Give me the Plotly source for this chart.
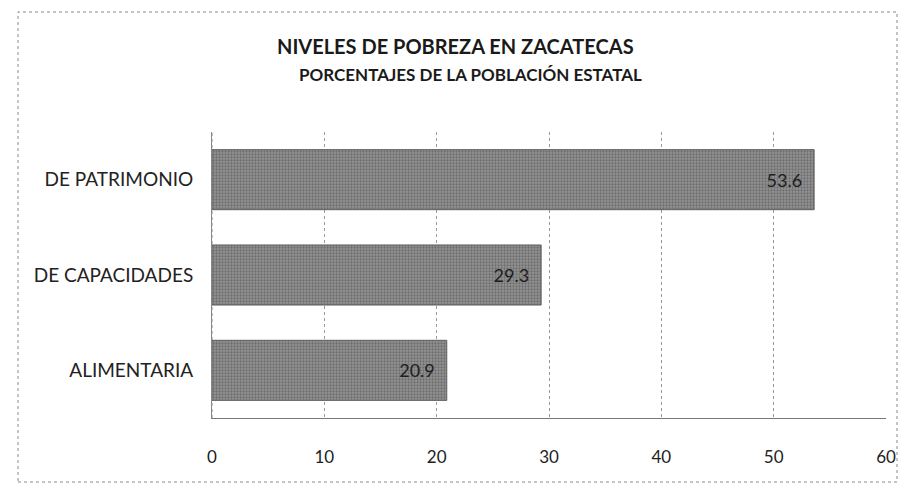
import plotly.graph_objects as go

categories = ["ALIMENTARIA", "DE CAPACIDADES", "DE PATRIMONIO"]
values = [20.9, 29.3, 53.6]
tick_vals = [0, 10, 20, 30, 40, 50, 60]

OFF = 8  # page body margin
W, H = 907 - OFF, 495 - OFF
# plot area in page pixels
PX0, PX1, PY0, PY1 = 212, 886, 132, 418
L = PX0 - OFF
R = W - (PX1 - OFF)
T = PY0 - OFF
B = H - (PY1 - OFF)
pw = PX1 - PX0
ph = PY1 - PY0

def px_x(p):
    return (p - PX0) / pw

def px_y(p):
    return (PY1 - p) / ph

fig = go.Figure(go.Bar(
    y=categories, x=values, orientation="h",
    marker=dict(color="#858585", line=dict(color="#5e5e5e", width=1),
                pattern=dict(shape=".", fgcolor="#474747", bgcolor="#939393", size=3, solidity=0.45)),
    width=0.63,
    text=[f"{v:.1f}\u2002" for v in values], textposition="inside", insidetextanchor="end",
    textfont=dict(color="#1e1e1e", size=18, family="Lato"),
    hoverinfo="skip",
))

fig.update_layout(
    width=W, height=H,
    margin=dict(l=L, r=R, t=T, b=B),
    paper_bgcolor="white", plot_bgcolor="white",
    showlegend=False,
    font=dict(family="Lato, Open Sans, sans-serif", color="#222"),
    xaxis=dict(range=[0, 60], tickvals=tick_vals, showgrid=True, gridcolor="#9a9a9a",
               griddash="dot", gridwidth=1, zeroline=False, showline=True,
               linecolor="#777", linewidth=1, ticks="", ticklabelstandoff=24,
               tickfont=dict(size=17, color="#222")),
    yaxis=dict(showgrid=False, zeroline=False, showline=True, linecolor="#888",
               tickfont=dict(size=19, color="#222"), ticks="", ticklabelstandoff=14),
)

fig.add_shape(type="line", xref="x", yref="paper", x0=0, x1=0, y0=0, y1=1,
              line=dict(color="#888", width=1, dash="dot"))

fig.add_shape(type="rect", xref="paper", yref="paper",
              x0=px_x(18), x1=px_x(897), y0=px_y(482), y1=px_y(12),
              line=dict(color="#8a8a8a", width=1, dash="dot"))

fig.add_annotation(text="<b>NIVELES DE POBREZA EN ZACATECAS</b>", xref="paper", yref="paper",
                   x=px_x(455), y=px_y(46), showarrow=False, yanchor="middle", xanchor="center",
                   font=dict(size=20, color="#1a1a1a"))
fig.add_annotation(text="<b>PORCENTAJES DE LA POBLACIÓN ESTATAL</b>", xref="paper", yref="paper",
                   x=px_x(470), y=px_y(74), showarrow=False, yanchor="middle", xanchor="center",
                   font=dict(size=17, color="#1a1a1a"))

fig.write_html("out.html")
